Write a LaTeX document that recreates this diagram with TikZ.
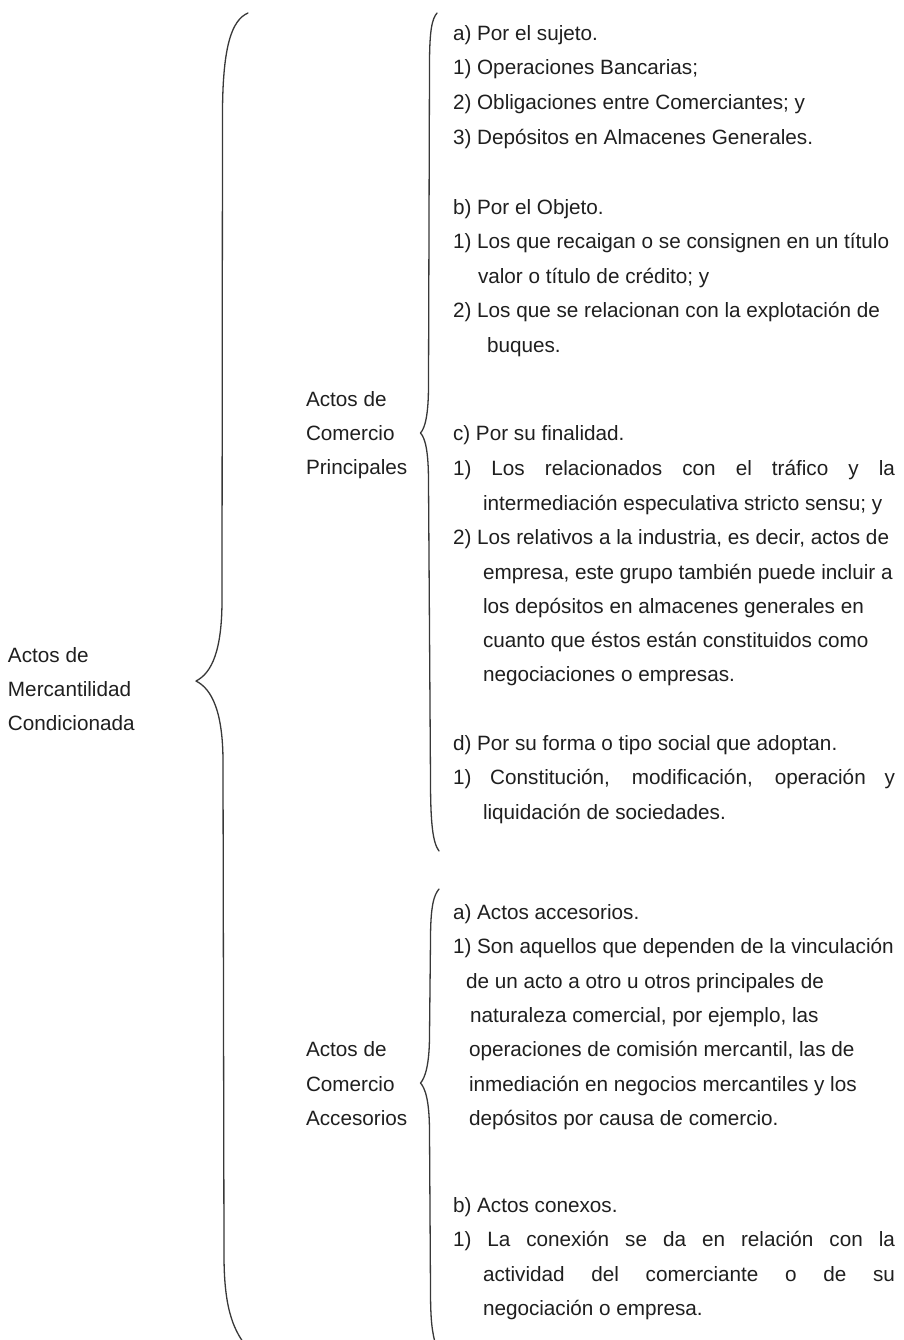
\documentclass[tikz,border=0pt]{standalone}
\usepackage{fontspec}
\setmainfont{Liberation Sans}
\begin{document}
\begin{tikzpicture}[x=1pt,y=-1pt,
  txt/.style={anchor=base west,inner sep=0pt,outer sep=0pt,text=black!88,
    font=\fontsize{20.7}{24}\selectfont},
  bracepath/.style={draw=black!78,line width=1.3pt,line cap=round,line join=round}]
\useasboundingbox[fill=white] (0,0) rectangle (903,1340);

% main brace
\draw[bracepath] (248,13) .. controls (232,20) and (223,45) .. (222.5,110)
  -- (222,600) .. controls (222,650) and (212,673) .. (196,681)
  .. controls (212,689) and (223,712) .. (223,762)
  -- (224,1255) .. controls (224,1305) and (232,1328) .. (246,1346);

% brace of the principal acts
\draw[bracepath] (437,13) .. controls (432,19) and (429.5,30) .. (429.5,65)
  -- (428.5,385) .. controls (428.5,415) and (425,428) .. (420.5,433)
  .. controls (425,438) and (428.5,450) .. (428.5,482)
  -- (430.5,780) .. controls (430.5,825) and (433,843) .. (439,851);

% brace of the accessory acts
\draw[bracepath] (439,889) .. controls (434,895) and (430.5,905) .. (430.5,940)
  -- (429.5,1035) .. controls (429.5,1065) and (425,1078) .. (420.5,1083)
  .. controls (425,1088) and (429.5,1100) .. (429.5,1132)
  -- (430.5,1290) .. controls (430.5,1320) and (432,1332) .. (436,1346);

% left label
\node[txt] (m1) at (8,662) {Actos de};
\node[txt] (m2) at (8,696) {Mercantilidad};
\node[txt] (m3) at (8,730) {Condicionada};

% middle labels
\node[txt] (pa) at (306,406) {Actos de};
\node[txt] (pb) at (306,440) {Comercio};
\node[txt] (pc) at (306,474) {Principales};
\node[txt] (aa) at (306,1056) {Actos de};
\node[txt] (ab) at (306,1091) {Comercio};
\node[txt] (ac) at (306,1125) {Accesorios};

% principal acts
\node[txt] (a0) at (453,41) {a) Por el sujeto.};
\node[txt] (a1) at (453,75) {1) Operaciones Bancarias;};
\node[txt] (a2) at (453,110) {2) Obligaciones entre Comerciantes; y};
\node[txt] (a3) at (453,145) {3) Depósitos en Almacenes Generales.};

\node[txt] (b0) at (453,215) {b) Por el Objeto.};
\node[txt] (b1) at (453,249) {1) Los que recaigan o se consignen en un título};
\node[txt] (b1c) at (478,283) {valor o título de crédito; y};
\node[txt] (b2) at (453,317) {2) Los que se relacionan con la explotación de};
\node[txt] (b2c) at (487,352) {buques.};

\node[txt] (c0) at (453,440) {c) Por su finalidad.};
\node[txt] (c1) at (453,475) {\makebox[442pt][s]{1) Los relacionados con el tráfico y la}};
\node[txt] (c1c) at (483,510) {intermediación especulativa stricto sensu; y};
\node[txt] (c2) at (453,544) {2) Los relativos a la industria, es decir, actos de};
\node[txt] (c2b) at (483,579) {empresa, este grupo también puede incluir a};
\node[txt] (c2c) at (483,613) {los depósitos en almacenes generales en};
\node[txt] (c2d) at (483,647) {cuanto que éstos están constituidos como};
\node[txt] (c2e) at (483,681) {negociaciones o empresas.};

\node[txt] (d0) at (453,750) {d) Por su forma o tipo social que adoptan.};
\node[txt] (d1) at (453,784) {\makebox[442pt][s]{1) Constitución, modificación, operación y}};
\node[txt] (d1c) at (483,819) {liquidación de sociedades.};

% accessory acts
\node[txt] (e0) at (453,919) {a) Actos accesorios.};
\node[txt] (e1) at (453,953) {1) Son aquellos que dependen de la vinculación};
\node[txt] (e1b) at (466,988) {de un acto a otro u otros principales de};
\node[txt] (e1c) at (470,1022) {naturaleza comercial, por ejemplo, las};
\node[txt] (e1d) at (469,1056) {operaciones de comisión mercantil, las de};
\node[txt] (e1e) at (469,1091) {inmediación en negocios mercantiles y los};
\node[txt] (e1f) at (469,1125) {depósitos por causa de comercio.};

\node[txt] (f0) at (453,1212) {b) Actos conexos.};
\node[txt] (f1) at (453,1246) {\makebox[442pt][s]{1) La conexión se da en relación con la}};
\node[txt] (f1b) at (483,1281) {\makebox[412pt][s]{actividad del comerciante o de su}};
\node[txt] (f1c) at (483,1315) {negociación o empresa.};
\end{tikzpicture}
\end{document}
